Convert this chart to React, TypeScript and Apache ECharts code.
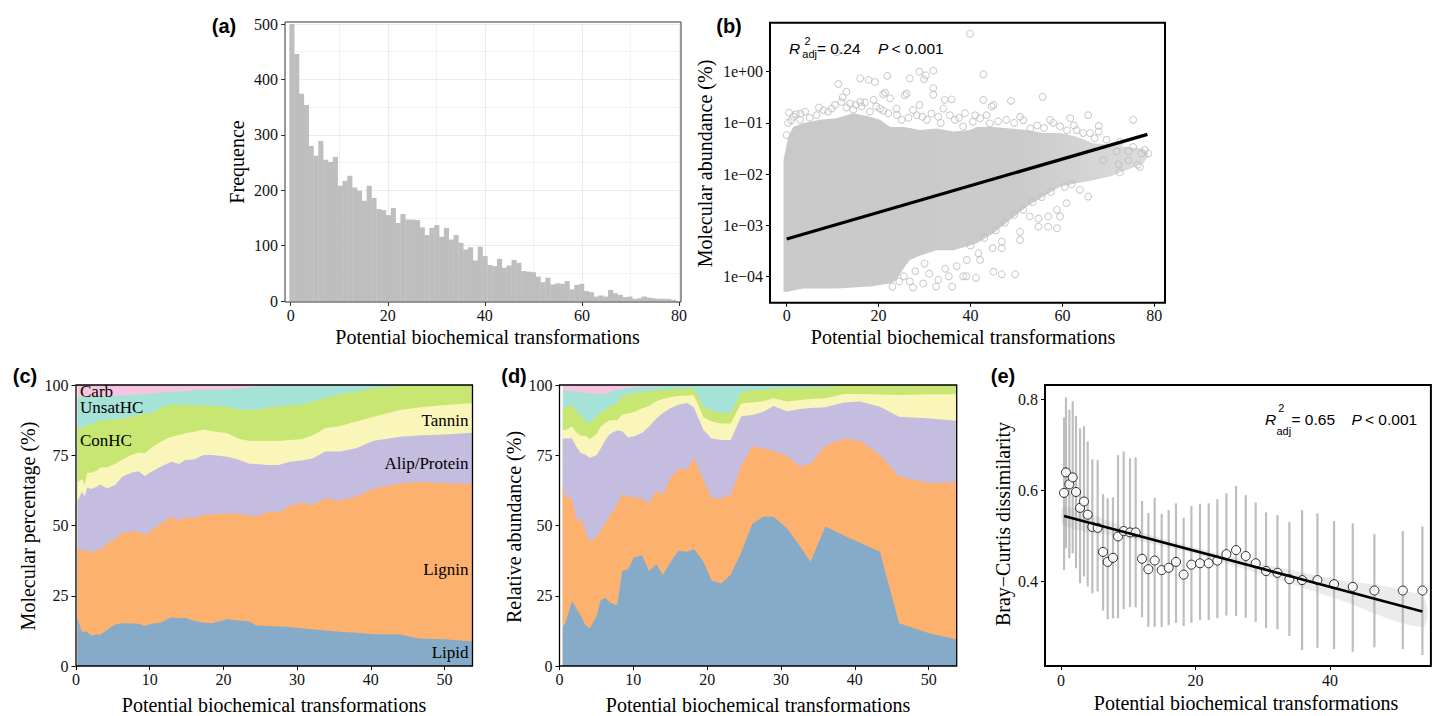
import React, { useEffect, useRef } from 'react';
import * as echarts from 'echarts';

// ---------- (a) histogram ----------
const histCounts = [500, 446, 374, 354, 280, 262, 289, 255, 251, 260, 208, 217, 226, 205, 199, 181, 208, 186, 166, 164,
  155, 168, 141, 157, 147, 147, 146, 133, 119, 132, 137, 116, 132, 111, 119, 105, 93, 97, 73, 98,
  81, 65, 63, 76, 60, 64, 74, 69, 54, 53, 52, 44, 34, 42, 30, 32, 31, 36, 21, 29,
  31, 18, 16, 8, 10, 8, 20, 14, 11, 7, 8, 4, 5, 8, 6, 5, 4, 4, 4, 2];
const HIST_START = -0.28;
const HIST_WIDTH = 0.995;

// ---------- (b) scatter (dense cloud envelope + individual points, log10 of abundance) ----------
const cloudX = [-0.7, 0.35, 1.4, 3.6, 7.2, 10.9, 14.5, 18.1, 20.3, 22.5, 23.9, 25.4, 26.8, 29.0, 32.6, 36.3, 39.9, 41.3, 45.0, 48.6, 52.2, 55.9, 59.5, 63.1, 66.7, 70.3, 74.0, 77.6, 78.7];
const cloudTopLog = [-1.73, -1.27, -1.08, -1.01, -0.94, -0.91, -0.81, -0.88, -0.94, -1.08, -1.08, -1.08, -1.1, -1.14, -1.11, -1.17, -1.14, -1.08, -1.08, -1.11, -1.14, -1.2, -1.2, -1.27, -1.4, -1.43, -1.47, -1.5, -1.6];
const cloudBottomLog = [-4.3, -4.3, -4.28, -4.24, -4.24, -4.24, -4.22, -4.2, -4.17, -4.14, -4.07, -3.85, -3.68, -3.6, -3.49, -3.49, -3.4, -3.36, -3.16, -2.9, -2.64, -2.44, -2.25, -2.18, -2.12, -2.05, -1.92, -1.79, -1.66];
const scatterBLog: [number, number][] = [
  [10.9, 0.38], [39.9, 0.74],
  [11.2, -0.24], [13.0, -0.39], [16.0, -0.13], [17.8, -0.16], [21.9, -0.08], [26.8, -0.13], [28.9, 0.0], [29.9, -0.15],
  [31.9, 0.02], [31.9, -0.32], [31.9, -0.45], [12.2, -0.5], [13.8, -0.62], [16.0, -0.59], [18.9, -0.55], [21.4, -0.41],
  [23.9, -0.72], [26.1, -0.43], [28.9, -0.65], [34.4, -0.55], [35.9, -0.54], [42.8, -0.05], [42.8, -0.55], [45.0, -0.65],
  [48.8, -0.57], [55.7, -0.49], [61.7, -0.91], [65.6, -0.85], [75.4, -0.94], [67.9, -1.06], [67.9, -1.17], [19.2, -0.2],
  [30.3, -0.07], [21.0, -0.44], [22.5, -0.52], [25.7, -0.46], [44.6, -0.68],
  [0, -1.24], [1.45, -0.88], [2.9, -0.94], [4.0, -0.78], [6.5, -0.85], [8.0, -0.75], [9.8, -0.72], [11.9, -0.59],
  [14.5, -0.74], [16.3, -0.68], [18.1, -0.78], [20.3, -0.72], [22.1, -0.81], [25.0, -0.94], [28.3, -0.85], [30.5, -0.94],
  [33.0, -0.88], [34.1, -0.72], [36.6, -0.94], [38.4, -1.07], [38.8, -0.81], [42.1, -0.91], [44.2, -1.01], [47.8, -0.94],
  [50.8, -0.88], [53.0, -1.11], [57.3, -0.94], [59.5, -1.07], [63.1, -1.14], [66.0, -1.2], [69.6, -1.33], [72.5, -1.37],
  [75.4, -1.47], [77.2, -1.6], [77.9, -1.53], [71.8, -1.56], [68.9, -1.73], [74.4, -1.73], [76.9, -1.86],
  [72.5, -1.97], [76.4, -1.82], [78.7, -1.6], [74.4, -1.55], [72.2, -1.81],
  [63.8, -2.31], [65.6, -2.44], [60.9, -2.57], [58.8, -2.70], [59.5, -2.83], [56.9, -2.83], [54.8, -2.87], [58.8, -3.06],
  [56.9, -3.03], [54.8, -3.03], [52.9, -2.83], [50.8, -3.13], [50.8, -3.29], [46.8, -3.32], [46.8, -3.45], [44.8, -3.45],
  [41.7, -3.55], [39.2, -3.68], [42.1, -3.68], [45.0, -3.91], [46.8, -3.96], [49.7, -3.96], [41.2, -4.03], [39.1, -4.0],
  [25.5, -4.0], [26.8, -4.1], [27.5, -4.22], [28.0, -3.9], [29.7, -4.14], [30.0, -3.75], [31.0, -3.95], [32.5, -4.2],
  [33.0, -4.07], [34.5, -3.85], [35.3, -4.0], [36.0, -4.2], [37.0, -3.8], [38.4, -4.0],
  // circles along the upper edge of the dense cloud
  [0.3, -1.0], [1.0, -0.95], [0.5, -0.8], [2.0, -0.83], [3.0, -0.82], [5.0, -0.9], [7.0, -0.7], [9.0, -0.78],
  [10.5, -0.65], [13.0, -0.7], [15.0, -0.65], [17.0, -0.6], [19.5, -0.68], [21.0, -0.76], [24.0, -0.85], [26.5, -0.9],
  [27.5, -0.75], [29.5, -0.88], [31.5, -0.82], [33.5, -1.0], [35.5, -0.85], [37.5, -0.9], [40.5, -0.98], [41.0, -0.85],
  [43.5, -0.85], [46.0, -0.97], [49.5, -1.0], [51.5, -0.95], [54.5, -1.05], [56.0, -1.1], [58.0, -1.0], [61.0, -1.15],
  [62.5, -1.05], [64.5, -1.2], [67.0, -1.3],
  // circles along the lower right edge
  [40.0, -3.4], [43.0, -3.25], [45.5, -3.1], [47.5, -2.95], [49.5, -2.8], [51.5, -2.7], [53.5, -2.55], [55.5, -2.45],
  [57.5, -2.35], [60.5, -2.25], [62.0, -2.2], [24.5, -4.1], [23.0, -4.2],
];
const fitBLog: [number, number][] = [[0, -3.27], [78.5, -1.225]];

// ---------- (c) molecular percentage: cumulative upper boundaries ----------
const xC = [0.2, 0.8, 1.2, 1.5, 2.1, 2.8, 3.3, 4.2, 5.3, 6.3, 7.5, 8.5, 9.3, 10.3, 11.5, 12.9, 14, 14.8, 16, 17.3, 18.5, 20.5, 22, 23.5, 24.5, 26, 27.5, 29, 30.6, 32.2, 33.8, 35.8, 38, 40.4, 44, 46.5, 50, 53.8];
const lipidTopC = [17, 12.3, 12.2, 12.2, 10.8, 11.3, 11.0, 12.8, 14.8, 15.2, 15.1, 15.0, 14.2, 15.0, 15.5, 17.3, 17.0, 17.2, 16.0, 15.4, 15.2, 16.6, 16.2, 15.8, 14.4, 14.2, 14.1, 13.9, 13.4, 13.0, 12.6, 12.2, 11.8, 11.3, 11.2, 9.8, 9.5, 8.7];
const ligninTopC = [41.9, 41.3, 41.0, 41.5, 40.1, 41.5, 41.2, 43.7, 45.1, 47.4, 47.9, 47.8, 46.6, 48.4, 50.5, 53.1, 51.7, 52.9, 52.6, 53.7, 54.0, 54.3, 54.1, 53.6, 53.1, 54.9, 54.7, 56.9, 58.1, 57.3, 59.7, 58.7, 60.3, 63.2, 65.0, 65.5, 65.0, 64.8];
const alipTopC = [58.5, 62.0, 60.3, 63.5, 63.0, 63.8, 64.6, 63.2, 64.4, 67.4, 68.8, 69.3, 67.6, 69.2, 70.9, 72.7, 71.9, 73.3, 73.5, 75.1, 75.1, 74.5, 73.5, 72.0, 71.9, 71.5, 71.5, 72.7, 73.1, 73.9, 76.3, 76.3, 77.5, 80.2, 81.6, 82.0, 82.4, 83.0];
const tanninTopC = [65.5, 66.5, 64.5, 68.8, 68.8, 69.5, 70.6, 70.7, 71.9, 73.5, 75.1, 76.0, 75.7, 77.8, 79.8, 81.6, 82.2, 82.8, 83.4, 84.2, 83.5, 82.8, 81.0, 80.1, 80.1, 80.1, 80.1, 80.4, 80.7, 82.2, 84.6, 85.4, 87.0, 88.7, 91.1, 92.0, 92.9, 93.5];
const conhcTopC = [85.2, 84.6, 85.0, 86.4, 85.8, 86.8, 87.5, 87.6, 87.8, 88.2, 88.7, 89.3, 89.9, 89.9, 92.0, 93.1, 93.0, 92.9, 92.9, 92.9, 92.6, 92.3, 91.3, 91.1, 91.2, 92.0, 92.3, 92.8, 93.1, 94.1, 95.3, 96.7, 97.6, 98.8, 99.6, 99.8, 99.9, 100];
const unsatTopC = [95.6, 95.6, 95.6, 95.7, 95.7, 95.8, 95.8, 96.0, 96.1, 96.3, 96.4, 96.6, 96.8, 97.0, 97.2, 97.5, 97.7, 97.8, 98.0, 98.2, 98.3, 98.5, 98.7, 99.0, 99.4, 99.5, 99.6, 99.6, 99.7, 99.7, 99.8, 99.8, 99.9, 99.9, 100, 100, 100, 100];

// ---------- (d) relative abundance: cumulative upper boundaries ----------
const xD = [0.45, 0.8, 1.7, 2.3, 2.9, 3.5, 4.1, 5.0, 5.6, 6.2, 6.8, 7.8, 8.5, 9.3, 10.1, 11.2, 12.1, 13.1, 14.0, 15.0, 16.1, 17.3, 18.2, 19.5, 20.6, 21.9, 23.2, 24.6, 26.1, 27.6, 29.0, 30.8, 32.6, 34.0, 36.0, 38.5, 40.7, 43.4, 46.0, 50.2, 53.7];
const lipidTopD = [14.0, 15.2, 23.1, 20.5, 17.9, 14.6, 13.4, 17.6, 23.5, 24.3, 22.7, 21.5, 33.8, 34.4, 38.7, 39.3, 33.8, 36.2, 32.4, 36.8, 40.9, 40.7, 41.6, 37.1, 30.4, 29.4, 32.6, 40.3, 50.5, 53.1, 53.1, 49.0, 42.5, 37.1, 49.6, 46.4, 43.9, 40.7, 15.2, 11.6, 9.5];
const ligninTopD = [64.4, 60.5, 59.3, 52.0, 52.2, 48.4, 44.2, 45.7, 48.5, 50.8, 53.5, 57.3, 61.2, 60.3, 60.0, 59.7, 57.7, 62.4, 60.9, 66.8, 70.0, 70.0, 73.9, 66.2, 59.7, 59.7, 60.9, 71.2, 78.1, 77.5, 76.5, 74.7, 70.9, 72.1, 78.3, 81.0, 80.2, 75.1, 67.4, 65.0, 65.4];
const alipTopD = [81.0, 81.0, 81.0, 78.0, 75.7, 75.3, 74.1, 75.0, 77.5, 80.3, 82.5, 83.9, 83.5, 81.3, 81.8, 83.0, 85.1, 88.0, 90.0, 91.7, 93.0, 93.6, 92.0, 84.0, 81.0, 80.4, 80.4, 88.9, 89.3, 90.5, 92.5, 90.7, 91.5, 91.8, 92.1, 93.8, 94.1, 92.3, 88.7, 88.1, 87.3];
const tanninTopD = [84.0, 84.0, 85.2, 83.0, 81.9, 81.9, 80.7, 82.5, 85.2, 86.5, 87.5, 87.5, 89.5, 89.9, 90.4, 91.7, 92.4, 94.2, 95.0, 95.6, 96.1, 96.3, 96.4, 88.5, 87.0, 86.3, 86.3, 93.4, 93.8, 94.2, 95.3, 94.1, 94.7, 95.0, 95.3, 96.8, 96.8, 96.6, 96.4, 96.7, 96.7];
const conhcTopD = [91.7, 92.0, 93.0, 90.5, 89.0, 87.5, 86.3, 88.7, 90.3, 91.3, 92.3, 93.4, 96.2, 96.6, 97.0, 97.5, 97.7, 98.1, 98.3, 98.5, 98.6, 98.7, 98.8, 92.3, 90.8, 90.1, 89.9, 97.6, 98.1, 98.4, 98.6, 98.8, 99.0, 99.1, 99.2, 100, 100, 100, 100, 100, 100];
const unsatTopD = [98.2, 98.0, 97.8, 97.6, 97.4, 97.2, 97.0, 96.8, 96.7, 97.0, 97.5, 98.2, 98.5, 98.9, 99.1, 99.3, 99.4, 99.5, 99.6, 99.6, 99.7, 99.8, 99.8, 99.8, 99.9, 99.9, 99.9, 100, 100, 100, 100, 100, 100, 100, 100, 100, 100, 100, 100, 100, 100];
const TOTAL = 100;

// ---------- (e) Bray-Curtis ----------
const bcX = [0.45, 0.74, 1.24, 1.74, 2.23, 2.83, 3.42, 3.97, 4.66, 5.45, 6.25, 6.94, 7.73, 8.48, 9.32, 10.26, 11.1, 12.05, 12.99, 13.93, 14.97, 16.01, 17.1, 18.24, 19.39, 20.67, 21.96, 23.25, 24.59, 26.03, 27.47, 28.95, 30.49, 32.18, 33.96, 35.85, 38.13, 40.6, 43.38, 46.6, 50.82, 53.74];
const bcMean = [0.594, 0.639, 0.613, 0.628, 0.596, 0.561, 0.575, 0.546, 0.519, 0.517, 0.464, 0.442, 0.451, 0.498, 0.510, 0.507, 0.507, 0.449, 0.426, 0.445, 0.424, 0.429, 0.442, 0.414, 0.436, 0.439, 0.439, 0.445, 0.459, 0.468, 0.455, 0.439, 0.422, 0.418, 0.404, 0.402, 0.402, 0.393, 0.387, 0.379, 0.379, 0.379];
const bcHigh = [0.760, 0.804, 0.777, 0.796, 0.763, 0.736, 0.741, 0.707, 0.668, 0.666, 0.591, 0.582, 0.584, 0.677, 0.685, 0.670, 0.672, 0.576, 0.550, 0.583, 0.548, 0.556, 0.571, 0.539, 0.565, 0.570, 0.571, 0.580, 0.593, 0.609, 0.589, 0.573, 0.551, 0.545, 0.530, 0.556, 0.549, 0.532, 0.527, 0.503, 0.510, 0.520];
const bcLow = [0.424, 0.472, 0.450, 0.461, 0.428, 0.395, 0.410, 0.388, 0.373, 0.377, 0.335, 0.316, 0.318, 0.318, 0.338, 0.343, 0.342, 0.320, 0.299, 0.299, 0.299, 0.303, 0.308, 0.301, 0.308, 0.314, 0.314, 0.318, 0.324, 0.323, 0.319, 0.310, 0.296, 0.294, 0.279, 0.248, 0.253, 0.250, 0.244, 0.254, 0.250, 0.237];
const fitE: [number, number][] = [[0.45, 0.543], [53.74, 0.333]];
const ciX = [0.45, 10, 20, 30, 40, 53.74];
const ciLow = [0.522, 0.494, 0.459, 0.414, 0.366, 0.299];
const ciHigh = [0.564, 0.516, 0.473, 0.438, 0.406, 0.366];

// ---------- styling ----------
const SERIF = '"Liberation Serif", "Times New Roman", serif';
const SANS = '"Liberation Sans", Arial, sans-serif';
const COLORS = {
  lipid: '#86abc9', lignin: '#fdb16f', alip: '#c4bde0', tannin: '#faf5b9',
  conhc: '#c8e672', unsat: '#a5e2d7', carb: '#f6c5df',
};
const TITLE_X = 'Potential biochemical transformations';

function axisLabel(margin: number, extra: any = {}) {
  return { color: '#111', fontFamily: SERIF, fontSize: 16, margin, ...extra };
}
function axisTick(color = '#000', extra: any = {}) {
  return { show: true, length: 4, lineStyle: { color, width: 1 }, ...extra };
}
const noLine = { show: false, onZero: false };

function txt(text: string, x: number, y: number, o: any = {}) {
  const align = o.align || 'center';
  const va = o.va || 'middle';
  const style: any = {
    text, fill: '#000',
    fontSize: o.size || 20, fontFamily: o.family || SERIF,
    fontStyle: o.italic ? 'italic' : 'normal', fontWeight: o.bold ? 'bold' : 'normal',
    align, verticalAlign: va, textAlign: align, textVerticalAlign: va,
  };
  if (o.lh) style.lineHeight = o.lh;
  return { type: 'text', x, y, z: 100, rotation: o.rot || 0, silent: true, style };
}
function border(x: number, y: number, w: number, h: number, stroke: string, lw: number) {
  return { type: 'rect', z: 100, silent: true, shape: { x, y, width: w, height: h }, style: { fill: 'transparent', stroke, lineWidth: lw } };
}

function areaSeries(idx: number, xs: number[], tops: number[], color: string) {
  return {
    type: 'line', xAxisIndex: idx, yAxisIndex: idx, silent: true,
    data: xs.map((x, i) => [x, tops[i]]),
    symbol: 'none', lineStyle: { width: 0, opacity: 0 },
    areaStyle: { color, opacity: 1 },
  };
}
function stackedSet(idx: number, xs: number[], arr: any) {
  return [
    areaSeries(idx, xs, xs.map(() => TOTAL), COLORS.carb),
    areaSeries(idx, xs, arr.unsat, COLORS.unsat),
    areaSeries(idx, xs, arr.conhc, COLORS.conhc),
    areaSeries(idx, xs, arr.tannin, COLORS.tannin),
    areaSeries(idx, xs, arr.alip, COLORS.alip),
    areaSeries(idx, xs, arr.lignin, COLORS.lignin),
    areaSeries(idx, xs, arr.lipid, COLORS.lipid),
  ];
}

function buildOption(): any {
  const grid = [
    { left: 290.7, top: 24, width: 388.3, height: 277 },
    { left: 786.7, top: 71.7, width: 367.6, height: 204.6 },
    { left: 76, top: 385, width: 396.5, height: 281 },
    { left: 559.5, top: 385, width: 397.2, height: 281 },
    { left: 1061, top: 399.3, width: 369.9, height: 181.7 },
  ];
  const expFmt = (v: number) => {
    const e = Math.round(Math.log10(v));
    return '1e' + (e < 0 ? '\u2212' : '+') + String(Math.abs(e)).padStart(2, '0');
  };
  const xTicksC = [0, 10, 20, 30, 40, 50];
  const xAxis = [
    {
      gridIndex: 0, type: 'value', min: 0, max: 80, interval: 20, offset: 1,
      axisLine: noLine, axisTick: axisTick('#333'), axisLabel: axisLabel(5),
      splitLine: { show: true, lineStyle: { color: '#ebebeb', width: 1.1 } },
      minorTick: { show: false, splitNumber: 2 },
      minorSplitLine: { show: true, lineStyle: { color: '#ebebeb', width: 0.6 } },
    },
    {
      gridIndex: 1, type: 'value', min: 0, max: 80, interval: 20, offset: 26.4,
      axisLine: noLine, axisTick: axisTick(), axisLabel: axisLabel(5), splitLine: { show: false },
    },
    {
      gridIndex: 2, type: 'value', min: 0, max: 53.8, interval: 10, offset: 0,
      axisLine: noLine, axisTick: axisTick('#000', { customValues: xTicksC }),
      axisLabel: axisLabel(5, { customValues: xTicksC }), splitLine: { show: false },
    },
    {
      gridIndex: 3, type: 'value', min: 0, max: 53.8, interval: 10, offset: 0,
      axisLine: noLine, axisTick: axisTick('#000', { customValues: xTicksC }),
      axisLabel: axisLabel(5, { customValues: xTicksC }), splitLine: { show: false },
    },
    {
      gridIndex: 4, type: 'value', min: 0, max: 55, interval: 20, offset: 85,
      axisLine: noLine, axisTick: axisTick('#000', { customValues: [0, 20, 40] }),
      axisLabel: axisLabel(6, { customValues: [0, 20, 40] }), splitLine: { show: false },
    },
  ];
  const yAxis = [
    {
      gridIndex: 0, type: 'value', min: 0, max: 500, interval: 100, offset: 5.7,
      axisLine: noLine, axisTick: axisTick('#333'), axisLabel: axisLabel(7),
      splitLine: { show: true, lineStyle: { color: '#ebebeb', width: 1.1 } },
      minorTick: { show: false, splitNumber: 2 },
      minorSplitLine: { show: true, lineStyle: { color: '#ebebeb', width: 0.6 } },
    },
    {
      gridIndex: 1, type: 'log', logBase: 10, min: 1e-4, max: 1, splitNumber: 4, offset: 16.7,
      axisLine: noLine, axisTick: axisTick(), axisLabel: axisLabel(7, { formatter: expFmt }), splitLine: { show: false },
    },
    {
      gridIndex: 2, type: 'value', min: 0, max: 100, interval: 25, offset: 0.5,
      axisLine: noLine, axisTick: axisTick(), axisLabel: axisLabel(7), splitLine: { show: false },
    },
    {
      gridIndex: 3, type: 'value', min: 0, max: 100, interval: 25, offset: 0,
      axisLine: noLine, axisTick: axisTick(), axisLabel: axisLabel(7), splitLine: { show: false },
    },
    {
      gridIndex: 4, type: 'value', min: 0.4, max: 0.8, interval: 0.2, offset: 16,
      axisLine: noLine, axisTick: axisTick(), axisLabel: axisLabel(7, { formatter: (v: number) => v.toFixed(1) }),
      splitLine: { show: false },
    },
  ];

  const histSeries = {
    type: 'custom', xAxisIndex: 0, yAxisIndex: 0, clip: false, silent: true,
    data: histCounts.map((c, i) => [i, c]),
    renderItem: (_p: any, api: any) => {
      const i = api.value(0);
      const c = api.value(1);
      const p0 = api.coord([HIST_START + i * HIST_WIDTH, c]);
      const p1 = api.coord([HIST_START + (i + 1) * HIST_WIDTH, 0]);
      return {
        type: 'rect',
        shape: { x: p0[0], y: p0[1], width: p1[0] - p0[0] + 0.3, height: p1[1] - p0[1] },
        style: { fill: '#bebebe' },
      };
    },
  };

  const cloudSeries = {
    type: 'custom', xAxisIndex: 1, yAxisIndex: 1, clip: false, silent: true,
    data: [[40, 0.01]],
    renderItem: (_p: any, api: any) => {
      const pts: number[][] = [];
      cloudX.forEach((x, i) => pts.push(api.coord([x, Math.pow(10, cloudTopLog[i])])));
      for (let i = cloudX.length - 1; i >= 0; i--) pts.push(api.coord([cloudX[i], Math.pow(10, cloudBottomLog[i])]));
      return {
        type: 'polygon', shape: { points: pts },
        style: {
          fill: new echarts.graphic.LinearGradient(0, 0, 1, 0, [
            { offset: 0, color: '#c9c9c9' }, { offset: 0.65, color: '#cbcbcb' }, { offset: 1, color: '#dddddd' },
          ]),
        },
      };
    },
  };
  const scatterSeriesB = {
    type: 'scatter', xAxisIndex: 1, yAxisIndex: 1, clip: false, silent: true,
    data: scatterBLog.map(([x, l]) => [x, Math.pow(10, l)]),
    symbol: 'circle', symbolSize: 6.8,
    itemStyle: { color: 'rgba(255,255,255,0)', borderColor: '#bdbdbd', borderWidth: 1 },
  };
  const fitSeriesB = {
    type: 'line', xAxisIndex: 1, yAxisIndex: 1, clip: false, silent: true,
    data: fitBLog.map(([x, l]) => [x, Math.pow(10, l)]),
    symbol: 'none', lineStyle: { color: '#000', width: 3.2 },
  };

  const errSeries = {
    type: 'custom', xAxisIndex: 4, yAxisIndex: 4, clip: false, silent: true,
    data: bcX.map((x, i) => [x, bcLow[i], bcHigh[i]]),
    renderItem: (_p: any, api: any) => {
      const a = api.coord([api.value(0), api.value(1)]);
      const b = api.coord([api.value(0), api.value(2)]);
      return { type: 'line', shape: { x1: a[0], y1: a[1], x2: b[0], y2: b[1] }, style: { stroke: '#bebebe', lineWidth: 2.2 } };
    },
  };
  const ciSeries = {
    type: 'custom', xAxisIndex: 4, yAxisIndex: 4, clip: false, silent: true,
    data: [[20, 0.5]],
    renderItem: (_p: any, api: any) => {
      const pts: number[][] = [];
      ciX.forEach((x, i) => pts.push(api.coord([x, ciHigh[i]])));
      for (let i = ciX.length - 1; i >= 0; i--) pts.push(api.coord([ciX[i], ciLow[i]]));
      return { type: 'polygon', shape: { points: pts, smooth: 0.3 }, style: { fill: 'rgba(153,153,153,0.2)' } };
    },
  };
  const fitSeriesE = {
    type: 'line', xAxisIndex: 4, yAxisIndex: 4, clip: false, silent: true,
    data: fitE, symbol: 'none', lineStyle: { color: '#000', width: 2.6 },
  };
  const pointSeriesE = {
    type: 'scatter', xAxisIndex: 4, yAxisIndex: 4, clip: false, silent: true,
    data: bcX.map((x, i) => [x, bcMean[i]]),
    symbol: 'circle', symbolSize: 9,
    itemStyle: { color: '#ffffff', borderColor: '#000', borderWidth: 1 },
  };

  const series = [
    histSeries,
    cloudSeries, scatterSeriesB, fitSeriesB,
    ...stackedSet(2, xC, { lipid: lipidTopC, lignin: ligninTopC, alip: alipTopC, tannin: tanninTopC, conhc: conhcTopC, unsat: unsatTopC }),
    ...stackedSet(3, xD, { lipid: lipidTopD, lignin: ligninTopD, alip: alipTopD, tannin: tanninTopD, conhc: conhcTopD, unsat: unsatTopD }),
    errSeries, ciSeries, fitSeriesE, pointSeriesE,
  ];

  const ann = 15.5;
  const sub = 11;
  const graphic = [
    border(285, 22, 396, 280, '#333', 1),
    border(770, 22.7, 395, 280, '#000', 2),
    border(76, 385, 396.5, 281, '#000', 1.3),
    border(559.5, 385, 397.2, 281, '#000', 1.3),
    border(1045, 385, 385.9, 281, '#000', 2),
    // panel tags
    txt('(a)', 224, 26, { family: SANS, bold: true, size: 20 }),
    txt('(b)', 729, 26, { family: SANS, bold: true, size: 20 }),
    txt('(c)', 25, 376, { family: SANS, bold: true, size: 20 }),
    txt('(d)', 514, 376, { family: SANS, bold: true, size: 20 }),
    txt('(e)', 1003, 376, { family: SANS, bold: true, size: 20 }),
    // axis titles
    txt(TITLE_X, 487.5, 337), txt('Frequence', 237, 162, { rot: Math.PI / 2 }),
    txt(TITLE_X, 963, 337), txt('Molecular abundance (%)', 705, 163.5, { rot: Math.PI / 2 }),
    txt(TITLE_X, 274, 705), txt('Molecular percentage (%)', 28.3, 526, { rot: Math.PI / 2 }),
    txt(TITLE_X, 758, 705), txt('Relative abundance (%)', 514, 527, { rot: Math.PI / 2 }),
    txt(TITLE_X, 1246, 703), txt('Bray\u2212Curtis dissimilarity', 1003.3, 524, { rot: Math.PI / 2 }),
    // (c) class labels
    txt('Carb', 80, 391, { size: 17, align: 'left', lh: 14 }),
    txt('UnsatHC', 80, 407.5, { size: 17, align: 'left', lh: 14 }),
    txt('ConHC', 80, 440.5, { size: 17, align: 'left' }),
    txt('Tannin', 468.5, 420, { size: 17, align: 'right' }),
    txt('Alip/Protein', 468.5, 463, { size: 17, align: 'right' }),
    txt('Lignin', 468.5, 569.5, { size: 17, align: 'right' }),
    txt('Lipid', 468.5, 652, { size: 17, align: 'right' }),
    // (b) annotation
    txt('R', 789, 48, { family: SANS, italic: true, size: ann, align: 'left' }),
    txt('2', 804.5, 40.5, { family: SANS, size: sub, align: 'left' }),
    txt('adj', 802.3, 53.5, { family: SANS, size: sub, align: 'left' }),
    txt('= 0.24', 817, 48, { family: SANS, size: ann, align: 'left' }),
    txt('P', 878, 48, { family: SANS, italic: true, size: ann, align: 'left' }),
    txt('< 0.001', 891.5, 48, { family: SANS, size: ann, align: 'left' }),
    // (e) annotation
    txt('R', 1265, 419.3, { family: SANS, italic: true, size: ann, align: 'left' }),
    txt('2', 1278.3, 408, { family: SANS, size: sub, align: 'left' }),
    txt('adj', 1276.5, 430.5, { family: SANS, size: sub, align: 'left' }),
    txt('= 0.65', 1291.5, 419.3, { family: SANS, size: ann, align: 'left' }),
    txt('P', 1351.5, 419.3, { family: SANS, italic: true, size: ann, align: 'left' }),
    txt('< 0.001', 1365, 419.3, { family: SANS, size: ann, align: 'left' }),
  ];

  return { animation: false, backgroundColor: '#ffffff', grid, xAxis, yAxis, series, graphic };
}

export default function App() {
  const ref = useRef<HTMLDivElement>(null);
  useEffect(() => {
    document.body.style.margin = '0';
    const chart = echarts.init(ref.current as HTMLDivElement, null, { renderer: 'svg' });
    chart.setOption(buildOption());
    return () => chart.dispose();
  }, []);
  return <div ref={ref} style={{ width: 1434, height: 716, background: '#fff' }} />;
}
